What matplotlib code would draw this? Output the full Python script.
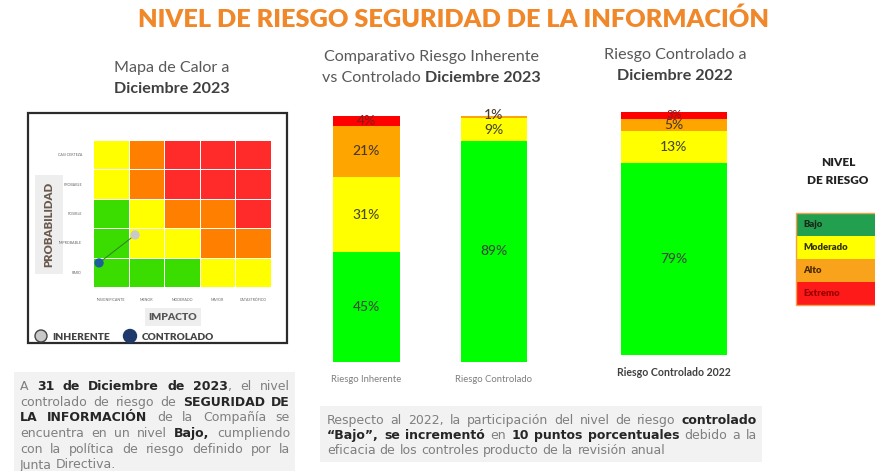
import numpy as np
import matplotlib
matplotlib.use("Agg")
import matplotlib.pyplot as plt
from matplotlib.colors import ListedColormap
from matplotlib.patches import Rectangle, Circle

# ---------------- data ----------------
titulo = "NIVEL DE RIESGO SEGURIDAD DE LA INFORMACIÓN"
niveles = ["Bajo", "Moderado", "Alto", "Extremo"]

probabilidad = ["RARO", "IMPROBABLE", "POSIBLE", "PROBABLE", "CASI CERTEZA"]
impacto = ["INSIGNIFICANTE", "MENOR", "MODERADO", "MAYOR", "CATASTRÓFICO"]
# level index per cell (0=Bajo,1=Moderado,2=Alto,3=Extremo), rows from RARO upward
mapa_niveles = [
    [0, 0, 0, 1, 1],
    [0, 1, 1, 2, 2],
    [0, 1, 2, 2, 3],
    [1, 2, 3, 3, 3],
    [1, 2, 3, 3, 3],
]
punto_inherente = (1.18, 1.77)   # (impacto, probabilidad) in cell units
punto_controlado = (0.17, 0.82)

categorias_2023 = ["Riesgo Inherente", "Riesgo Controlado"]
inherente_2023 = [45, 31, 21, 4]
controlado_2023 = [89, 9, 1, 0]
categoria_2022 = ["Riesgo Controlado 2022"]
controlado_2022 = [79, 13, 5, 3]

texto_izq = [
    "A **31 de Diciembre de 2023**, el nivel",
    "controlado de riesgo de **SEGURIDAD DE**",
    "**LA INFORMACIÓN** de la Compañía se",
    "encuentra en un nivel **Bajo,** cumpliendo",
    "con la política de riesgo definido por la",
    "Junta Directiva.",
]
texto_centro = [
    "Respecto al 2022, la participación del nivel de riesgo **controlado**",
    "**“Bajo”, se incrementó** en **10 puntos porcentuales** debido a la",
    "eficacia de los controles producto de la revisión anual",
]

# ---------------- style ----------------
W, H = 875, 471
bar_cols = ["#00FF00", "#FFFF00", "#FFA500", "#FF0000"]
map_cols = ["#3BDD00", "#FFFF00", "#FF7F00", "#FF2A2A"]
leg_cols = ["#22A050", "#FFFF00", "#F9A21B", "#FF1A1A"]
HF = "Lato"
PF = "DejaVu Sans"

fig = plt.figure(figsize=(W / 100, H / 100), dpi=100)
fig.patch.set_facecolor("white")


def px_axes(x0, y0, x1, y1, **kw):
    return fig.add_axes([x0 / W, 1 - y1 / H, (x1 - x0) / W, (y1 - y0) / H], **kw)


bg = px_axes(0, 0, W, H)
bg.set_xlim(0, W)
bg.set_ylim(H, 0)
bg.axis("off")

# title
bg.text(454, 19, titulo, ha="center", va="center", fontsize=18.2, weight="heavy",
        color="#F0882A", family=HF)

# sub titles
g = "#595959"
SF = 11.6
bg.text(172, 68, "Mapa de Calor a", ha="center", va="center", fontsize=SF, color=g, family=HF)
bg.text(172, 89, "Diciembre 2023", ha="center", va="center", fontsize=SF, color="#404040",
        weight="bold", family=HF)
bg.text(431, 57, "Comparativo Riesgo Inherente", ha="center", va="center", fontsize=SF,
        color=g, family=HF)
t1 = bg.text(0, 78, "vs Controlado ", ha="left", va="center", fontsize=SF, color=g, family=HF)
t2 = bg.text(0, 78, "Diciembre 2023", ha="left", va="center", fontsize=SF, color="#404040",
             weight="bold", family=HF)
bg.text(675, 55, "Riesgo Controlado a", ha="center", va="center", fontsize=SF, color=g, family=HF)
bg.text(675, 76, "Diciembre 2022", ha="center", va="center", fontsize=SF, color="#404040",
        weight="bold", family=HF)

renderer = fig.canvas.get_renderer()
w1 = t1.get_window_extent(renderer).width
w2 = t2.get_window_extent(renderer).width
start = 431 - (w1 + w2) / 2
t1.set_x(start)
t2.set_x(start + w1)

# heat map frame
bg.add_patch(Rectangle((28, 113), 259, 230, fc="white", ec="#2b2b2b", lw=1.6))
bg.add_patch(Rectangle((35, 175), 28, 99, fc="#EEEEEE", ec="none"))
bg.text(49, 224, "PROBABILIDAD", rotation=90, ha="center", va="center", fontsize=8.2,
        weight="heavy", color="#6A5A4E", family=HF)
bg.add_patch(Rectangle((145, 308), 56, 18, fc="#EEEEEE", ec="none"))
bg.text(173, 317, "IMPACTO", ha="center", va="center", fontsize=7.5, weight="heavy",
        color="#555555", family=HF)
bg.add_patch(Circle((41, 336), 6, fc="#C9C9C9", ec="#444444", lw=1.0))
bg.text(52, 337, "INHERENTE", ha="left", va="center", fontsize=7.3, weight="heavy",
        color="#444444", family=HF)
bg.add_patch(Circle((130, 336), 6.5, fc="#1F3A6B", ec="#1F3A6B", lw=1.0))
bg.text(142, 337, "CONTROLADO", ha="left", va="center", fontsize=7.3, weight="heavy",
        color="#444444", family=HF)

# legend right
bg.text(838, 163, "NIVEL", ha="center", va="center", fontsize=8.5, weight="heavy",
        color="#222222", family=HF)
bg.text(838, 180, "DE RIESGO", ha="center", va="center", fontsize=8.5, weight="heavy",
        color="#222222", family=HF)
leg_txt_cols = ["#1a2a1a", "#333300", "#4a2a00", "#9a0000"]
for i, (lev, c) in enumerate(zip(niveles, leg_cols)):
    y0 = 213 + i * 23
    bg.add_patch(Rectangle((796, y0), 90, 23, fc=c, ec="none"))
    bg.text(803, y0 + 11.5, lev, ha="left", va="center", fontsize=6.8, weight="heavy",
            color=leg_txt_cols[i], family=HF)
bg.add_patch(Rectangle((796, 213), 90, 92, fc="none", ec="#F2A04A", lw=1.0))

# text boxes
bg.add_patch(Rectangle((14, 372), 281, 99, fc="#F2F2F2", ec="none"))
bg.add_patch(Rectangle((320, 406), 442, 56, fc="#F2F2F2", ec="none"))


def parse(line):
    parts = line.split("**")
    tokens = [[]]
    for i, p in enumerate(parts):
        bold = i % 2 == 1
        pieces = p.split(" ")
        for j, piece in enumerate(pieces):
            if j > 0:
                tokens.append([])
            if piece:
                tokens[-1].append((piece, bold))
    return [t for t in tokens if t]


def justified(lines, x0, x1, y0, lh, fs):
    sp_a = bg.text(0, -100, "x x", fontsize=fs, family=PF)
    sp_b = bg.text(0, -100, "xx", fontsize=fs, family=PF)
    space = sp_a.get_window_extent(renderer).width - sp_b.get_window_extent(renderer).width
    sp_a.remove(); sp_b.remove()
    base_off = fs / 0.72 * 0.36
    for li, line in enumerate(lines):
        y = y0 + li * lh + base_off
        toks = parse(line)
        objs = []
        widths = []
        for tok in toks:
            runs = []
            tw = 0
            for s, b in tok:
                t = bg.text(0, y, s, ha="left", va="baseline", fontsize=fs, family=PF,
                            weight="bold" if b else "normal",
                            color="#262626" if b else "#7F7F7F")
                w = t.get_window_extent(renderer).width
                runs.append((t, w))
                tw += w
            objs.append(runs)
            widths.append(tw)
        last = li == len(lines) - 1
        if last or len(toks) < 2:
            gap = space
        else:
            gap = max((x1 - x0 - sum(widths)) / (len(toks) - 1), space * 0.6)
        x = x0
        for runs, tw in zip(objs, widths):
            xx = x
            for t, w in runs:
                t.set_x(xx)
                xx += w
            x += tw + gap


justified(texto_izq, 20, 290, 385.5, 15.7, 9.0)
justified(texto_centro, 327, 757, 419.5, 15.0, 9.0)

# heat map
hm = px_axes(93, 140, 271, 287)
cmap = ListedColormap(map_cols)
hm.pcolormesh(np.array(mapa_niveles), cmap=cmap, vmin=-0.5, vmax=3.5,
              edgecolors="#FFFFFF", linewidth=0.5, alpha=1)
hm.set_xlim(0, 5)
hm.set_ylim(0, 5)
for s in hm.spines.values():
    s.set_visible(False)
hm.set_yticks(np.arange(5) + 0.5)
hm.set_yticklabels(probabilidad, fontsize=2.6, color="#666666", family=HF)
hm.set_xticks(np.arange(5) + 0.5)
hm.set_xticklabels(impacto, fontsize=2.6, color="#666666", family=HF)
hm.tick_params(length=0, axis="y", pad=8)
hm.tick_params(length=0, axis="x", pad=8)
hm.plot([punto_controlado[0], punto_inherente[0]], [punto_controlado[1], punto_inherente[1]],
        color="#2E7D32", lw=0.7, zorder=3)
hm.scatter([punto_inherente[0]], [punto_inherente[1]], s=45, c="#C9C9C9", zorder=4,
           edgecolors="none", clip_on=False)
hm.scatter([punto_controlado[0]], [punto_controlado[1]], s=45, c="#1F5E9E", zorder=4,
           edgecolors="none", clip_on=False)


# stacked bars
def stacked(ax, xs, data, width, fs, label_cols):
    for xi, vals in zip(xs, data):
        tot = sum(vals)
        bottom = 0
        for k, v in enumerate(vals):
            h = v / tot * 100
            if h > 0:
                ax.bar(xi, h, width=width, bottom=bottom, color=bar_cols[k], edgecolor="none")
            if v > 0:
                yl = bottom + h / 2
                f = fs
                if h < 2:
                    yl = bottom + h + 0.6
                if k == 3 and v <= 3:
                    f = fs * 0.8
                    yl = bottom + h / 2 + 0.6
                ax.text(xi, yl, f"{v}%", ha="center", va="center", fontsize=f,
                        color=label_cols[k], family=HF, weight="medium")
            bottom += h
    ax.set_ylim(0, 100)
    for s in ax.spines.values():
        s.set_visible(False)
    ax.set_yticks([])


lab_cols = ["#3A4A3A", "#4A4A30", "#4A3A2A", "#8A1A1A"]
b1 = px_axes(320, 116, 540, 362)
stacked(b1, [0, 1], [inherente_2023, controlado_2023], 0.525, 10, lab_cols)
b1.set_xlim(-0.365, 1.361)
b1.set_xticks([0, 1])
b1.set_xticklabels(categorias_2023, fontsize=6.8, color="#7F7F7F", family=HF)
b1.tick_params(length=0, axis="x", pad=9)

b2 = px_axes(621, 112, 727, 355)
stacked(b2, [0], [controlado_2022], 1.0, 10, lab_cols)
b2.set_xlim(-0.5, 0.5)
b2.set_xticks([0])
b2.set_xticklabels(categoria_2022, fontsize=7.6, color="#404040", weight="bold", family=HF)
b2.tick_params(length=0, axis="x", pad=9)

fig.savefig("out.png", dpi=100)
